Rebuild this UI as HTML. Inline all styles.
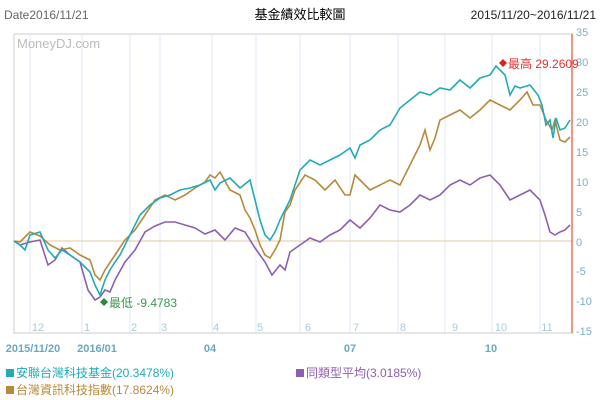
<!DOCTYPE html>
<html><head><meta charset="utf-8"><style>
body{margin:0;background:#fff;}
svg{display:block;font-family:"Liberation Sans","Noto Sans CJK TC",sans-serif;}
</style></head><body>
<svg width="601" height="400" xmlns="http://www.w3.org/2000/svg">
<rect width="601" height="400" fill="#fff"/>
<text x="4" y="19" font-size="12" fill="#666">Date2016/11/21</text>
<text x="300" y="19" font-size="13" fill="#000" text-anchor="middle">基金績效比較圖</text>
<text x="596" y="19" font-size="12" fill="#222" text-anchor="end">2015/11/20~2016/11/21</text>
<rect x="14" y="34" width="558" height="299" fill="none" stroke="#ccc"/>
<g stroke="#dde8f4" stroke-width="1">
<line x1="30" y1="34" x2="30" y2="333"/><line x1="82" y1="34" x2="82" y2="333"/><line x1="130" y1="34" x2="130" y2="333"/><line x1="160" y1="34" x2="160" y2="333"/><line x1="212" y1="34" x2="212" y2="333"/><line x1="256" y1="34" x2="256" y2="333"/><line x1="300" y1="34" x2="300" y2="333"/><line x1="350" y1="34" x2="350" y2="333"/><line x1="398" y1="34" x2="398" y2="333"/><line x1="445" y1="34" x2="445" y2="333"/><line x1="492" y1="34" x2="492" y2="333"/><line x1="540" y1="34" x2="540" y2="333"/>
</g>
<line x1="14" y1="241" x2="572" y2="241" stroke="#e0c9a0"/>
<line x1="14" y1="333" x2="572" y2="333" stroke="#ccc"/>
<line x1="572" y1="34" x2="572" y2="333" stroke="#e8735a" stroke-width="1.5"/>
<text x="17" y="48" font-size="13" fill="#bbb">MoneyDJ.com</text>
<g font-size="11" fill="#7ab0c8" text-anchor="start">
<text x="576" y="36">35</text><text x="576" y="66">30</text><text x="576" y="96">25</text><text x="576" y="126">20</text><text x="576" y="156">15</text><text x="576" y="186">10</text><text x="576" y="216">5</text><text x="576" y="246">0</text><text x="576" y="275">-5</text><text x="576" y="305">-10</text><text x="576" y="335">-15</text>
</g>
<g font-size="11" fill="#a8ccd8" text-anchor="middle">
<text x="38" y="331">12</text><text x="87" y="331">1</text><text x="134" y="331">2</text><text x="164" y="331">3</text><text x="216" y="331">4</text><text x="260" y="331">5</text><text x="308" y="331">6</text><text x="356" y="331">7</text><text x="403" y="331">8</text><text x="455" y="331">9</text><text x="501" y="331">10</text><text x="547" y="331">11</text>
</g>
<g font-size="11" fill="#6aa8c0" font-weight="bold" text-anchor="middle">
<text x="33" y="352">2015/11/20</text><text x="97" y="352">2016/01</text><text x="210" y="352">04</text><text x="350" y="352">07</text><text x="491" y="352">10</text>
</g>
<polyline fill="none" stroke="#8c5fb0" stroke-width="1.6" points="14,241 20,245 30,242 40,240 48,265 55,260 62,248 70,255 80,262 88,290 95,300 100,297 105,290 110,292 115,280 125,262 135,250 145,232 155,226 165,222 175,222 185,225 195,228 205,234 215,230 225,240 235,228 245,232 255,248 265,262 272,275 280,265 285,270 290,252 300,245 310,238 320,242 330,235 340,230 350,220 360,228 370,218 380,205 390,210 400,212 410,205 420,195 430,200 440,195 450,185 460,180 470,185 480,178 490,175 500,185 510,200 520,195 530,190 540,200 545,215 550,232 555,235 560,232 565,230 570,225"/>
<polyline fill="none" stroke="#b8893a" stroke-width="1.6" points="14,241 20,242 30,232 40,236 50,245 60,250 70,248 80,255 90,260 95,275 100,280 105,270 115,255 125,240 135,230 145,215 155,200 165,195 175,200 185,195 195,188 205,182 210,175 215,178 220,172 230,190 240,195 245,210 250,218 255,230 260,245 265,255 270,258 275,250 280,240 285,212 290,205 295,190 305,175 315,180 325,190 335,180 345,195 350,195 355,175 360,180 370,190 380,185 390,180 400,185 410,165 420,145 425,130 430,150 435,138 440,120 450,115 460,110 470,118 480,110 490,100 500,105 510,110 520,100 527,92 533,105 540,105 546,120 552,130 555,120 560,140 565,142 570,137"/>
<polyline fill="none" stroke="#22aab8" stroke-width="1.6" points="14,241 20,245 25,250 30,235 40,232 48,250 55,258 62,250 70,255 80,262 90,272 95,285 100,295 105,280 110,270 115,262 120,255 125,245 130,235 135,225 140,215 150,205 160,198 170,195 180,190 190,188 200,185 210,180 215,190 220,183 230,178 240,188 250,180 255,200 260,220 265,235 270,240 275,232 280,220 290,200 300,170 310,160 320,165 330,160 340,155 350,148 355,158 360,145 370,140 380,130 390,125 400,108 410,100 420,92 430,95 440,88 450,90 460,80 470,88 480,78 490,75 496,66 500,70 505,75 510,95 515,86 520,88 530,85 538,95 542,105 546,125 550,120 553,138 556,118 560,130 565,128 570,120"/>
<path d="M503,59 l4,4 -4,4 -4,-4z" fill="#e02020"/>
<text x="508" y="68" font-size="12" fill="#e83030">最高 29.2609</text>
<path d="M104,298 l4,4 -4,4 -4,-4z" fill="#2a8a3a"/>
<text x="109" y="307" font-size="12" fill="#3a9a4a">最低 -9.4783</text>
<g font-size="12">
<rect x="6" y="369" width="8" height="8" fill="#22aab8"/><text x="16" y="377" fill="#22aab8">安聯台灣科技基金(20.3478%)</text>
<rect x="6" y="386" width="8" height="8" fill="#b8893a"/><text x="16" y="394" fill="#b8893a">台灣資訊科技指數(17.8624%)</text>
<rect x="296" y="369" width="8" height="8" fill="#8c5fb0"/><text x="306" y="377" fill="#8c5fb0">同類型平均(3.0185%)</text>
</g>
</svg>
</body></html>
